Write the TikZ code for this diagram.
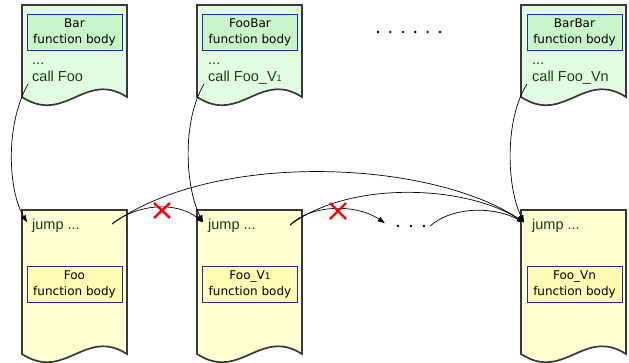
\documentclass[tikz,border=0pt]{standalone}
\usepackage{fontspec}
\setmainfont{Liberation Sans}
\newfontfamily\labelfont{DejaVu Sans}
\usetikzlibrary{arrows.meta}

\definecolor{docedge}{RGB}{56,56,56}
\definecolor{callfill}{RGB}{226,252,226}
\definecolor{callbody}{RGB}{200,245,200}
\definecolor{implfill}{RGB}{255,255,210}
\definecolor{implbody}{RGB}{255,250,180}
\definecolor{bodyedge}{RGB}{40,40,160}
\definecolor{codetext}{RGB}{15,70,15}

\tikzset{
  docpage/.style={draw=docedge, line width=1.7pt, line join=miter},
  bodybox/.style={draw=bodyedge, line width=0.8pt, minimum width=95pt,
    minimum height=36pt, inner sep=0pt, align=center,
    font=\labelfont\fontsize{12}{16}\selectfont},
  code/.style={text=codetext, font=\fontsize{14.5}{16}\selectfont,
    inner sep=0pt, anchor=base west},
  link/.style={line width=0.7pt, -{Triangle[length=7pt,width=5pt]}},
  cross/.style={draw=red, line width=2.4pt},
  dot/.style={fill=black},
}

% page with a wavy lower edge: #1 left x, #2 top y, #3 y of the lower corners, #4 fill
\newcommand\wavypage[4]{%
  \path[docpage, fill=#4] (#1,#2) -- (#1+105,#2) -- (#1+105,#3)
    .. controls (#1+63,#3-27) and (#1+43,#3+28) .. (#1,#3) -- cycle;
}
\newcommand\smallone{{\fontsize{9}{9}\selectfont 1}}

\begin{document}
\begin{tikzpicture}[x=1pt, y=-1pt]
\useasboundingbox[fill=white] (0,0) rectangle (629,362);

% callers
\wavypage{22}{5}{97}{callfill}
\wavypage{197}{5}{97}{callfill}
\wavypage{521}{5}{97}{callfill}

\node[bodybox, fill=callbody] (barbody) at (74.5,32) {Bar\\function body};
\node[bodybox, fill=callbody] (foobarbody) at (250,32) {FooBar\\function body};
\node[bodybox, fill=callbody] (barbarbody) at (574.5,32) {BarBar\\function body};

\node[code] (dotsA) at (32,64) {...};
\node[code] (callA) at (32,81) {call Foo};
\node[code] (dotsB) at (208,64) {...};
\node[code] (callB) at (208,81) {call Foo\_V\smallone};
\node[code] (dotsC) at (532,64) {...};
\node[code] (callC) at (532,81) {call Foo\_Vn};

% callees
\wavypage{22}{210}{354}{implfill}
\wavypage{197}{210}{354}{implfill}
\wavypage{521}{210}{354}{implfill}

\node[bodybox, fill=implbody] (foobody) at (74.5,284) {Foo\\function body};
\node[bodybox, fill=implbody] (foov1body) at (250,284) {Foo\_V\smallone\\function body};
\node[bodybox, fill=implbody] (foovnbody) at (574.5,284) {Foo\_Vn\\function body};

\node[code] (jumpA) at (32,229) {jump ...};
\node[code] (jumpB) at (208,229) {jump ...};
\node[code] (jumpC) at (532,229) {jump ...};

% elided variants
\foreach \i in {0,...,5} \fill[dot] (378+12.4*\i,32) circle (1.3pt);
\node[minimum width=30pt, minimum height=4pt, inner sep=0pt] (gap) at (411,226) {};
\foreach \i in {-1,0,1} \fill[dot] ([xshift=13*\i pt]gap.center) circle (1.3pt);

% connector ends
\coordinate (callAtail) at ([xshift=-4pt,yshift=-3pt]callA.base west);
\coordinate (callBtail) at ([xshift=-4pt,yshift=-3pt]callB.base west);
\coordinate (callCtail) at ([xshift=-5pt,yshift=-3pt]callC.base west);
\coordinate (jumpAin) at ([xshift=-5pt,yshift=3pt]jumpA.west);
\coordinate (jumpBin) at ([xshift=-5pt,yshift=3pt]jumpB.west);
\coordinate (jumpCin) at ([xshift=-8pt,yshift=3pt]jumpC.west);
\coordinate (jumpAout) at (112,224);
\coordinate (jumpBout) at (290,225);
\coordinate (gapin) at ([xshift=-11pt,yshift=3pt]gap.west);
\coordinate (gapout) at ([xshift=4pt]gap.east);

% calls into the variants
\draw[link] (callAtail) .. controls (5,125) and (8,190) .. (jumpAin);
\draw[link] (callBtail) .. controls (182,121) and (185,186) .. (jumpBin);
\draw[link] (callCtail) .. controls (504,120) and (507,188) .. (jumpCin);

% jump chain
\draw[link] (jumpAout) .. controls (135,205) and (175,200) .. (jumpBin);
\draw[link] (jumpAout) .. controls (215,150) and (430,160) .. (jumpCin);
\draw[link] (jumpBout) .. controls (310,205) and (355,203) .. (gapin);
\draw[link] (jumpBout) .. controls (350,180) and (465,185) .. (jumpCin);
\draw[link] (gapout) .. controls (450,208) and (490,205) .. (jumpCin);

% removed jumps
\draw[cross] (154,203) -- (170,218) (154,218) -- (170,203);
\draw[cross] (330,203) -- (346,219) (330,219) -- (346,203);
\end{tikzpicture}
\end{document}
